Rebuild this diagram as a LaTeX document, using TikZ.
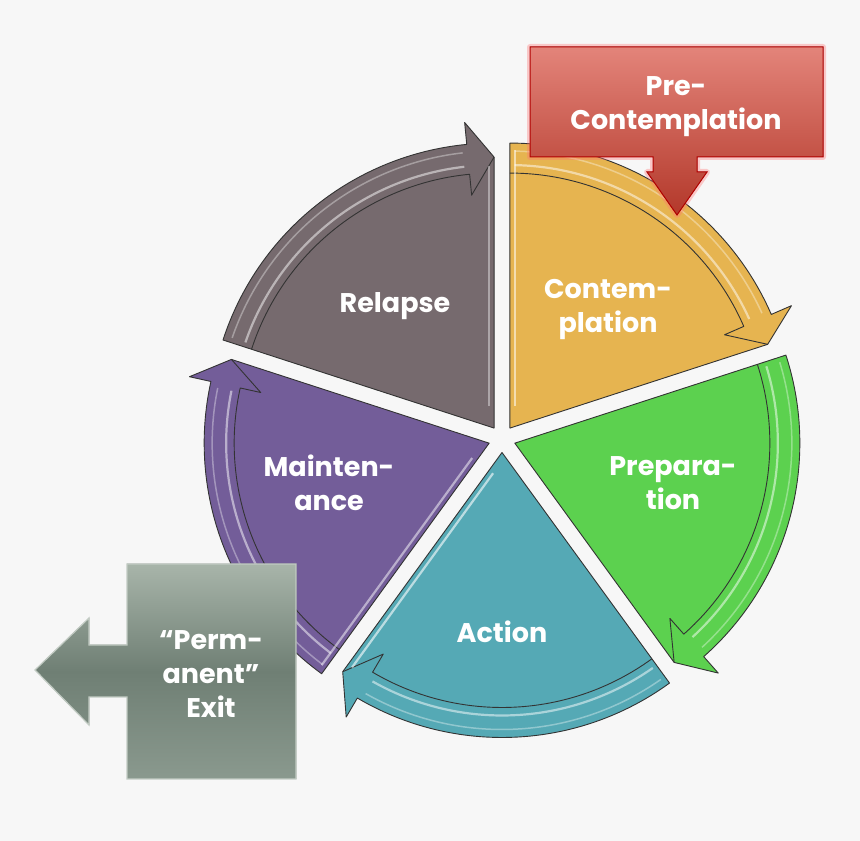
\documentclass[tikz,border=0pt]{standalone}
\usepackage{fontspec}
\setmainfont{Poppins}
\usetikzlibrary{positioning}
\definecolor{bgc}{HTML}{F7F7F7}
\definecolor{relapsec}{HTML}{766A6E}
\definecolor{contc}{HTML}{E6B450}
\definecolor{prepc}{HTML}{5CD14F}
\definecolor{actc}{HTML}{55A9B5}
\definecolor{maintc}{HTML}{735D99}
\definecolor{pretop}{HTML}{E3847A}
\definecolor{prebot}{HTML}{B3382A}
\definecolor{exittop}{HTML}{A8B5AA}
\definecolor{exitmid}{HTML}{6F7F74}
\definecolor{exitbot}{HTML}{8A998E}

\begin{document}
\begin{tikzpicture}[x=1pt, y=1pt, font=\fontsize{27}{34}\selectfont\bfseries,
    lbl/.style={text=white, align=center}]
    \fill[bgc] (0,0) rectangle (860,841);
    \useasboundingbox (0,0) rectangle (860,841);
    % 五个扇形, 外圈为顺时针弧形箭头
    \foreach \s/\col/\hs/\he in {90/contc/.55/0, 18/prepc/0/0, -54/actc/0/.6, -126/maintc/.5/0, -198/relapsec/0/.4} {
        \pgfmathsetmacro{\e}{\s-72}
        \pgfmathsetmacro{\b}{\s-36}
        \pgfmathsetmacro{\h}{\e+5.5}
        \begin{scope}[shift={(502,402)}, shift={(\b:13.5)}]
            \filldraw[fill=\col, draw=black!80, line width=0.9, line join=round] (0,0) -- (\s:285)
                arc[start angle=\s, end angle=\h, radius=285] -- (\h:307) -- (\e:271) -- cycle;
            \draw[black!80, line width=0.9, line join=round] (\s:255)
                arc[start angle=\s, end angle=\h, radius=255] -- (\h:234) -- (\e:271);
            \draw[white, opacity=.5, line width=2.2] ({\s-1}:263) arc[start angle=\s-1, end angle=\h+1, radius=263];
            \draw[white, opacity=.35, line width=1.5] ({\s-1}:277) arc[start angle=\s-1, end angle=\h+1, radius=277];
            % 边缘高光
            \draw[white, opacity=\hs, line width=2.2, rotate=\s] (22,-5) -- (278,-5);
            \draw[white, opacity=\he, line width=2.2, rotate=\e] (22,5) -- (262,5);
        \end{scope}
    }
    % 扇形文字
    \node[lbl] (relapse) at (395,535) {Relapse};
    \node[lbl] (contemplation) at (608,531) {Contem-\\plation};
    \node[lbl] (preparation) at (673,358) {Prepara-\\tion};
    \node[lbl] (action) at (502,209) {Action};
    \node[lbl] (maintenance) at (329,358) {Mainten-\\ance};
    % 前意向: 红色向下箭头框
    \filldraw[draw=red!70!black, line width=1, top color=pretop, bottom color=prebot,
        preaction={draw=red!55, opacity=.35, line width=6, line join=round}]
        (530,794) -- (823,794) -- (823,684) -- (697,684) -- (697,669) -- (707,669) -- (677,626)
        -- (647,669) -- (653,669) -- (653,684) -- (530,684) -- cycle;
    \node[lbl] (precont) at (676,734) {Pre-\\Contemplation};
    % 永久退出: 灰色向左箭头框
    \filldraw[draw=exittop!70!white, line width=1.2, top color=exittop, bottom color=exitbot, middle color=exitmid]
        (127,277) -- (296,277) -- (296,62) -- (127,62) -- (127,144) -- (89,144) -- (89,116)
        -- (35,171) -- (89,223) -- (89,196) -- (127,196) -- cycle;
    \node[lbl] (exit) at (211,167) {“Perm-\\anent”\\Exit};
\end{tikzpicture}
\end{document}
